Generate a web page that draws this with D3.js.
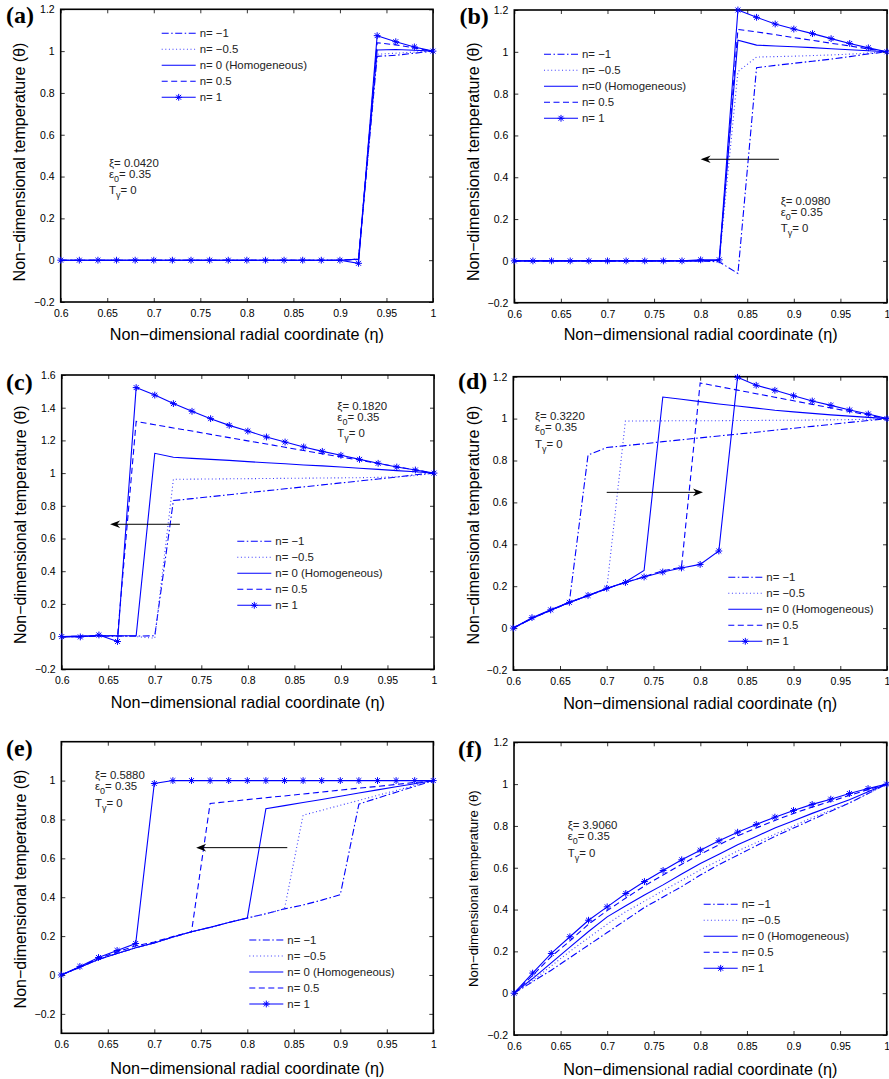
<!DOCTYPE html>
<html>
<head>
<meta charset="utf-8">
<script src="https://cdn.jsdelivr.net/npm/d3@7"></script>
<style>
  body { margin: 0; background: #fff; }
  svg { display: block; }
</style>
</head>
<body>
<div id="chart"></div>
<script>
// radial coordinate grid
const eta = [0.6, 0.62, 0.64, 0.66, 0.68, 0.7, 0.72, 0.74, 0.76, 0.78, 0.8,
  0.82, 0.84, 0.86, 0.88, 0.9, 0.92, 0.94, 0.96, 0.98, 1.0]

const xTicks = [0.6, 0.65, 0.7, 0.75, 0.8, 0.85, 0.9, 0.95, 1]
const yTicksStd = [-0.2, 0, 0.2, 0.4, 0.6, 0.8, 1, 1.2]
const yTicksC = [-0.2, 0, 0.2, 0.4, 0.6, 0.8, 1, 1.2, 1.4, 1.6]
const yTicksE = [-0.2, 0, 0.2, 0.4, 0.6, 0.8, 1]

const legendLabels = ['n= \u22121', 'n= \u22120.5', 'n= 0 (Homogeneous)', 'n= 0.5', 'n= 1']
const legendLabelsB = ['n= \u22121', 'n= \u22120.5', 'n=0 (Homogeneous)', 'n= 0.5', 'n= 1']
const panelTags = ['(a)', '(b)', '(c)', '(d)', '(e)', '(f)']
const xiValues = ['0.0420', '0.0980', '0.1820', '0.3220', '0.5880', '3.9060']

// (a) xi = 0.0420
const a_m1  = [0,0,0,0,0,0,0,0,0,0,0,0,0,0,0,0, 0.005, 0.975, 0.98, 0.99, 1.0]
const a_m05 = [0,0,0,0,0,0,0,0,0,0,0,0,0,0,0,0, 0.005, 0.985, 0.99, 0.995, 1.0]
const a_0   = [0,0,0,0,0,0,0,0,0,0,0,0,0,0,0,0, 0.005, 1.005, 1.008, 1.004, 1.0]
const a_05  = [0,0,0,0,0,0,0,0,0,0,0,0,0,0,0,0, 0.003, 1.04, 1.03, 1.015, 1.0]
const a_1   = [0,0,0,0,0,0,0,0,0,0,0,0,0,0,0,0, -0.015, 1.074, 1.045, 1.02, 1.0]

// (b) xi = 0.0980
const b_m1  = [0,0,0,0,0,0,0,0,0,0,0, -0.005, -0.06, 0.924, 0.935, 0.945, 0.955, 0.965, 0.977, 0.99, 1.0]
const b_m05 = [0,0,0,0,0,0,0,0,0,0,0, 0.0, 0.905, 0.975, 0.977, 0.979, 0.982, 0.985, 0.989, 0.994, 1.0]
const b_0   = [0,0,0,0,0,0,0,0,0,0,0, 0.003, 1.056, 1.032, 1.028, 1.024, 1.02, 1.015, 1.01, 1.005, 1.0]
const b_05  = [0,0,0,0,0,0,0,0,0,0,0, 0.003, 1.107, 1.095, 1.082, 1.068, 1.055, 1.041, 1.028, 1.014, 1.0]
const b_1   = [0,0,0,0,0,0,0,0,0,0,0.005, 0.005, 1.2, 1.165, 1.133, 1.109, 1.087, 1.063, 1.04, 1.019, 1.0]

// (c) xi = 0.1820
const c_m1  = [0, 0, 0.003, 0.003, 0.003, 0.005, 0.832, 0.844, 0.856, 0.868, 0.88, 0.892, 0.904, 0.916, 0.928, 0.94, 0.952, 0.964, 0.976, 0.99, 1.0]
const c_m05 = [0, 0, 0.003, 0.003, 0.0, -0.01, 0.962, 0.963, 0.964, 0.965, 0.966, 0.967, 0.968, 0.969, 0.97, 0.971, 0.972, 0.974, 0.977, 0.985, 1.0]
const c_0   = [0, 0.003, 0.005, 0.005, 0.005, 1.121, 1.097, 1.09, 1.084, 1.078, 1.07, 1.063, 1.057, 1.05, 1.044, 1.037, 1.03, 1.023, 1.015, 1.008, 1.0]
const c_05  = [0, 0.003, 0.005, 0.005, 1.316, 1.296, 1.276, 1.257, 1.237, 1.217, 1.197, 1.178, 1.158, 1.138, 1.118, 1.099, 1.079, 1.059, 1.039, 1.02, 1.0]
const c_1   = [0, -0.002, 0.01, -0.03, 1.523, 1.477, 1.425, 1.378, 1.333, 1.292, 1.257, 1.221, 1.19, 1.16, 1.133, 1.109, 1.084, 1.06, 1.037, 1.019, 1.0]

// (d) xi = 0.3220
const d_m1  = [0, 0.046, 0.085, 0.125, 0.826, 0.862, 0.871, 0.88, 0.89, 0.899, 0.908, 0.917, 0.926, 0.935, 0.945, 0.954, 0.963, 0.972, 0.982, 0.991, 1.0]
const d_m05 = [0, 0.046, 0.085, 0.122, 0.155, 0.185, 0.988, 0.989, 0.989, 0.99, 0.99, 0.99, 0.991, 0.991, 0.992, 0.992, 0.993, 0.994, 0.995, 0.997, 1.0]
const d_0   = [0, 0.046, 0.085, 0.122, 0.155, 0.188, 0.22, 0.275, 1.103, 1.092, 1.081, 1.07, 1.06, 1.05, 1.04, 1.032, 1.025, 1.018, 1.012, 1.006, 1.0]
const d_05  = [0, 0.047, 0.085, 0.122, 0.155, 0.188, 0.218, 0.245, 0.274, 0.29, 1.17, 1.153, 1.136, 1.119, 1.102, 1.085, 1.068, 1.051, 1.034, 1.017, 1.0]
const d_1   = [0, 0.05, 0.087, 0.123, 0.156, 0.19, 0.218, 0.244, 0.268, 0.287, 0.304, 0.368, 1.197, 1.159, 1.135, 1.109, 1.084, 1.063, 1.041, 1.022, 1.0]

// (e) xi = 0.5880
const e_m1  = [0, 0.04, 0.08, 0.11, 0.14, 0.165, 0.195, 0.222, 0.245, 0.27, 0.293, 0.315, 0.34, 0.36, 0.385, 0.413, 0.879, 0.91, 0.94, 0.97, 1.0]
const e_m05 = [0, 0.04, 0.08, 0.11, 0.14, 0.165, 0.195, 0.222, 0.245, 0.27, 0.293, 0.315, 0.34, 0.822, 0.847, 0.873, 0.898, 0.924, 0.949, 0.975, 1.0]
const e_0   = [0, 0.04, 0.08, 0.11, 0.14, 0.165, 0.195, 0.222, 0.245, 0.27, 0.293, 0.855, 0.871, 0.887, 0.903, 0.919, 0.936, 0.952, 0.968, 0.984, 1.0]
const e_05  = [0, 0.042, 0.085, 0.118, 0.15, 0.17, 0.198, 0.222, 0.882, 0.892, 0.902, 0.912, 0.921, 0.931, 0.941, 0.951, 0.961, 0.97, 0.98, 0.99, 1.0]
const e_1   = [0, 0.044, 0.09, 0.126, 0.162, 0.985, 1, 1, 1, 1, 1, 1, 1, 1, 1, 1, 1, 1, 1, 1, 1.0]

// (f) xi = 3.9060
const f_m1  = [0, 0.055, 0.11, 0.17, 0.23, 0.29, 0.35, 0.41, 0.46, 0.51, 0.565, 0.615, 0.66, 0.705, 0.75, 0.79, 0.83, 0.87, 0.91, 0.955, 1.0]
const f_m05 = [0, 0.06, 0.13, 0.2, 0.265, 0.33, 0.39, 0.44, 0.49, 0.54, 0.59, 0.635, 0.68, 0.72, 0.76, 0.8, 0.84, 0.875, 0.91, 0.955, 1.0]
const f_0   = [0, 0.07, 0.145, 0.22, 0.295, 0.365, 0.418, 0.47, 0.518, 0.57, 0.62, 0.665, 0.71, 0.75, 0.79, 0.825, 0.86, 0.893, 0.925, 0.963, 1.0]
const f_05  = [0, 0.085, 0.175, 0.25, 0.33, 0.395, 0.455, 0.513, 0.565, 0.617, 0.664, 0.71, 0.752, 0.79, 0.826, 0.86, 0.89, 0.918, 0.946, 0.974, 1.0]
const f_1   = [0, 0.096, 0.19, 0.27, 0.349, 0.413, 0.477, 0.534, 0.587, 0.638, 0.684, 0.729, 0.77, 0.807, 0.842, 0.874, 0.903, 0.928, 0.955, 0.979, 1.0]

const width = 889
const height = 1079

// layout of each sub-plot (pixel boxes) plus where legend, note and arrow sit
const panels = [
  { series: [a_m1, a_m05, a_0, a_05, a_1], labels: legendLabels, yDomain: [-0.2, 1.2], yTicks: yTicksStd,
    box: { l: 60.7, r: 433, t: 9.3, b: 302 }, legend: { x: 161.7, y: 33.3 }, note: { x: 109, y: 166.5 },
    tag: { x: 6, y: 22.5 }, ylab: { x: 19, y: 162, size: 16 }, xlab: 37.5, arrow: null },
  { series: [b_m1, b_m05, b_0, b_05, b_1], labels: legendLabelsB, yDomain: [-0.2, 1.2], yTicks: yTicksStd,
    box: { l: 514.3, r: 887, t: 10, b: 302.7 }, legend: { x: 544, y: 54.3 }, note: { x: 780.7, y: 205 },
    tag: { x: 459.5, y: 23.5 }, ylab: { x: 473.3, y: 161.7, size: 16 }, xlab: 37.5, arrow: [0.884, 0.8, 0.486] },
  { series: [c_m1, c_m05, c_0, c_05, c_1], labels: legendLabels, yDomain: [-0.2, 1.6], yTicks: yTicksC,
    box: { l: 61.7, r: 434, t: 375, b: 669.3 }, legend: { x: 237.3, y: 541.3 }, note: { x: 337.3, y: 410 },
    tag: { x: 6, y: 390 }, ylab: { x: 20, y: 524.7, size: 16 }, xlab: 39, arrow: [0.727, 0.652, 0.687] },
  { series: [d_m1, d_m05, d_0, d_05, d_1], labels: legendLabels, yDomain: [-0.2, 1.2], yTicks: yTicksStd,
    box: { l: 513.3, r: 887, t: 376.7, b: 670 }, legend: { x: 728.3, y: 577.3 }, note: { x: 535, y: 420.3 },
    tag: { x: 458, y: 388.5 }, ylab: { x: 473.3, y: 525, size: 16 }, xlab: 39, arrow: [0.7, 0.803, 0.648] },
  { series: [e_m1, e_m05, e_0, e_05, e_1], labels: legendLabels, yDomain: [-0.3, 1.2], yTicks: yTicksE,
    box: { l: 61.3, r: 433.3, t: 741.7, b: 1033.3 }, legend: { x: 249.3, y: 940 }, note: { x: 95, y: 779.3 },
    tag: { x: 6, y: 755.5 }, ylab: { x: 20, y: 889, size: 16 }, xlab: 41, arrow: [0.843, 0.745, 0.655] },
  { series: [f_m1, f_m05, f_0, f_05, f_1], labels: legendLabels, yDomain: [-0.2, 1.2], yTicks: yTicksStd,
    box: { l: 514, r: 886.7, t: 742.3, b: 1035 }, legend: { x: 703.7, y: 904.3 }, note: { x: 567.7, y: 829.3 },
    tag: { x: 458, y: 757 }, ylab: { x: 473.3, y: 888.7, size: 13.2 }, xlab: 39.5, arrow: null }
]

const blue = '#0000ff'
const seriesStyle = [
  { dash: '7,2.5,1.5,2.5', color: blue },
  { dash: '1,2.6', color: '#3c3cff' },
  { dash: null, color: blue },
  { dash: '6,3.5', color: blue },
  { dash: null, color: blue, star: true }
]
const font = '"Liberation Sans", Arial, Helvetica, sans-serif'
const minus = s => s.replace('-', '\u2212')
const fmt = d => minus(String(+d.toFixed(2)))

function starPath(r) {
  const q = r * 0.72
  return `M${-r},0H${r}M0,${-r}V${r}M${-q},${-q}L${q},${q}M${-q},${q}L${q},${-q}`
}

const svg = d3.select('#chart')
  .append('svg')
  .attr('width', width)
  .attr('height', height)
  .attr('viewBox', [0, 0, width, height])
  .style('font-family', font)

panels.forEach((p, pi) => {
  const g = svg.append('g')
  const x = d3.scaleLinear().domain([0.6, 1]).range([p.box.l, p.box.r])
  const y = d3.scaleLinear().domain(p.yDomain).range([p.box.b, p.box.t])

  // axes with inward ticks on all four sides
  const tick = 4
  g.append('g').attr('transform', `translate(0,${p.box.b})`)
    .call(d3.axisBottom(x).tickValues(xTicks).tickFormat(fmt).tickSizeInner(-tick).tickSizeOuter(0).tickPadding(7.5))
  g.append('g').attr('transform', `translate(0,${p.box.t})`)
    .call(d3.axisTop(x).tickValues(xTicks).tickFormat('').tickSizeInner(-tick).tickSizeOuter(0))
  g.append('g').attr('transform', `translate(${p.box.l},0)`)
    .call(d3.axisLeft(y).tickValues(p.yTicks).tickFormat(fmt).tickSizeInner(-tick).tickSizeOuter(0).tickPadding(6))
  g.append('g').attr('transform', `translate(${p.box.r},0)`)
    .call(d3.axisRight(y).tickValues(p.yTicks).tickFormat('').tickSizeInner(-tick).tickSizeOuter(0))
  g.selectAll('.domain').remove()
  g.selectAll('.tick line').attr('stroke', '#000').attr('stroke-width', 0.8)
  g.selectAll('.tick text').attr('font-size', 10.5).attr('font-family', font).attr('fill', '#000')

  g.append('rect')
    .attr('x', p.box.l).attr('y', p.box.t)
    .attr('width', p.box.r - p.box.l).attr('height', p.box.b - p.box.t)
    .attr('fill', 'none').attr('stroke', '#000').attr('stroke-width', 1.6)

  const line = d3.line().x(d => x(d[0])).y(d => y(d[1]))

  p.series.forEach((vals, si) => {
    const st = seriesStyle[si]
    const pts = eta.map((e, i) => [e, vals[i]])
    g.append('path')
      .attr('d', line(pts))
      .attr('fill', 'none')
      .attr('stroke', st.color)
      .attr('stroke-width', 1.1)
      .attr('stroke-dasharray', st.dash)
    if (st.star) {
      g.append('g').selectAll('path')
        .data(pts)
        .join('path')
        .attr('transform', d => `translate(${x(d[0])},${y(d[1])})`)
        .attr('d', starPath(3.4))
        .attr('stroke', st.color)
        .attr('stroke-width', 1)
        .attr('fill', 'none')
    }
  })

  // legend
  const lg = g.append('g').attr('font-size', 11.4)
  p.labels.forEach((lab, i) => {
    const st = seriesStyle[i]
    const ly = p.legend.y + i * 16
    lg.append('line')
      .attr('x1', p.legend.x).attr('x2', p.legend.x + 34)
      .attr('y1', ly).attr('y2', ly)
      .attr('stroke', st.color).attr('stroke-width', 1.1)
      .attr('stroke-dasharray', st.dash)
    if (st.star) {
      lg.append('path')
        .attr('transform', `translate(${p.legend.x + 17},${ly})`)
        .attr('d', starPath(3.4))
        .attr('stroke', st.color).attr('fill', 'none')
    }
    lg.append('text')
      .attr('x', p.legend.x + 38).attr('y', ly + 4)
      .attr('fill', '#222')
      .text(lab)
  })

  // parameter note
  const nt = g.append('g').attr('font-size', 11.4).attr('fill', '#222')
  nt.append('text').attr('x', p.note.x).attr('y', p.note.y).text('\u03be= ' + xiValues[pi])
  const eps = nt.append('text').attr('x', p.note.x).attr('y', p.note.y + 11)
  eps.append('tspan').text('\u03b5')
  eps.append('tspan').attr('dy', 4).attr('font-size', 9).text('0')
  eps.append('tspan').attr('dy', -4).text('= 0.35')
  const tg = nt.append('text').attr('x', p.note.x).attr('y', p.note.y + 27.3)
  tg.append('tspan').text('T')
  tg.append('tspan').attr('dy', 4).attr('font-size', 9).text('\u03b3')
  tg.append('tspan').attr('dy', -4).text('= 0')

  // arrow showing shift of the front
  if (p.arrow) {
    const [x0, x1, ya] = p.arrow
    const dir = x1 < x0 ? 1 : -1
    g.append('line')
      .attr('x1', x(x0)).attr('x2', x(x1) + dir * 3)
      .attr('y1', y(ya)).attr('y2', y(ya))
      .attr('stroke', '#000').attr('stroke-width', 1)
    g.append('path')
      .attr('transform', `translate(${x(x1)},${y(ya)}) scale(${dir},1)`)
      .attr('d', 'M0,0L10,-3.8L7,0L10,3.8Z')
      .attr('fill', '#000')
  }

  // axis titles and panel tag
  g.append('text')
    .attr('x', (p.box.l + p.box.r) / 2).attr('y', p.box.b + p.xlab)
    .attr('text-anchor', 'middle').attr('font-size', 16.2)
    .text('Non\u2212dimensional radial coordinate (\u03b7)')
  g.append('text')
    .attr('transform', `translate(${p.ylab.x},${p.ylab.y}) rotate(-90)`)
    .attr('text-anchor', 'middle').attr('dominant-baseline', 'central')
    .attr('font-size', p.ylab.size)
    .text('Non\u2212dimensional temperature (\u03b8)')
  g.append('text')
    .attr('x', p.tag.x).attr('y', p.tag.y)
    .attr('font-family', '"Liberation Serif", "Times New Roman", serif')
    .attr('font-weight', 'bold').attr('font-size', 24)
    .text(panelTags[pi])
})
</script>
</body>
</html>
